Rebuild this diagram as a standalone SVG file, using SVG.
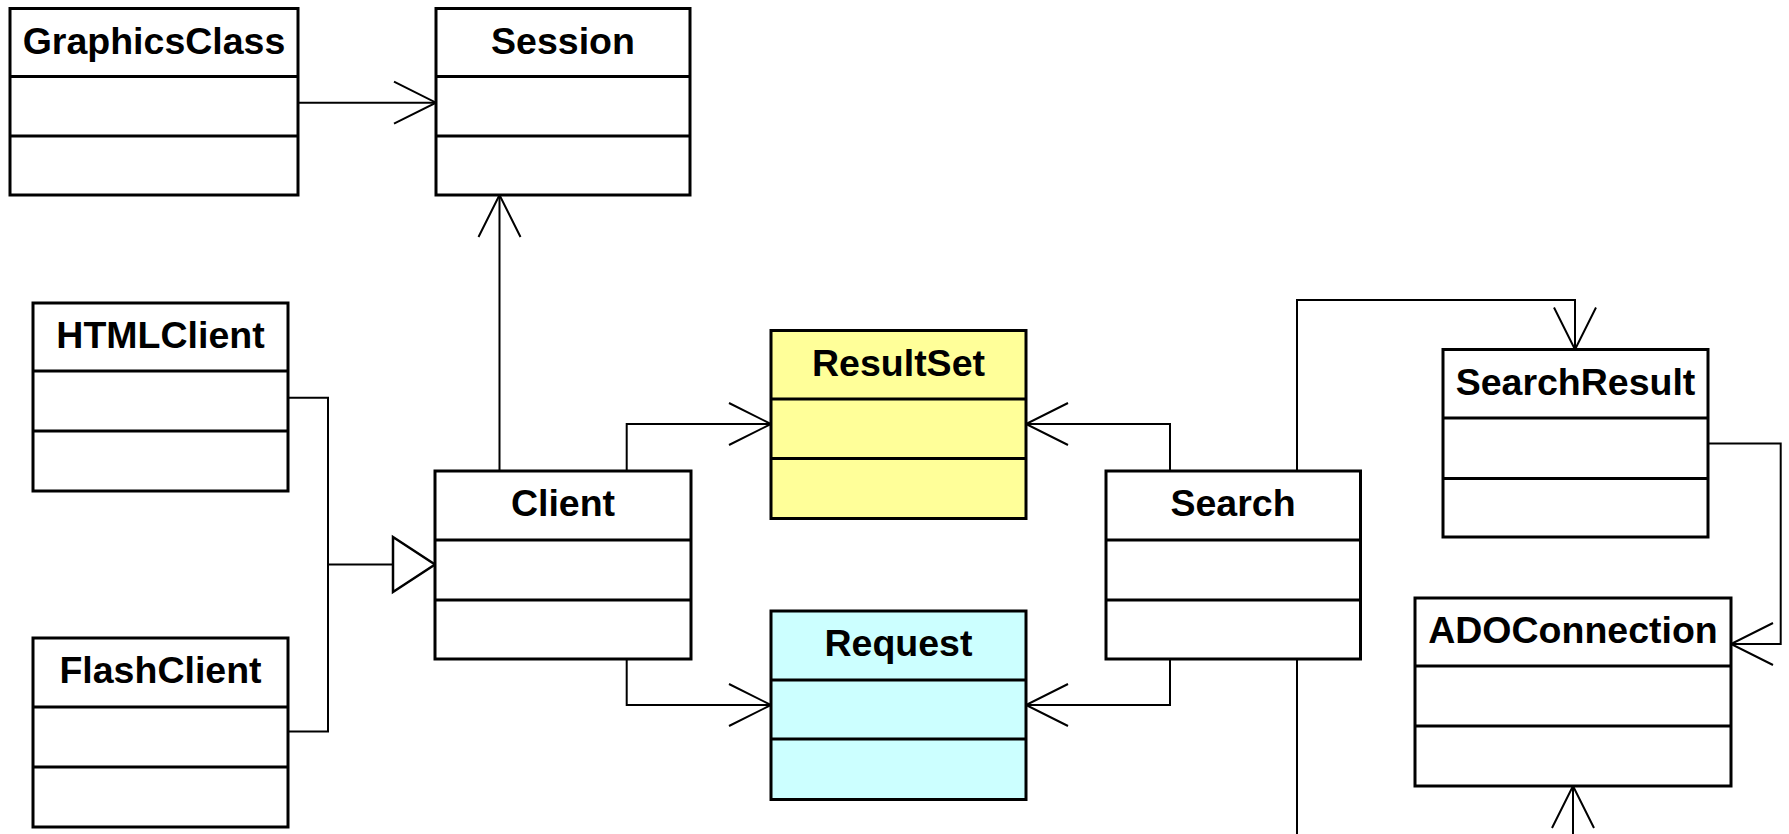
<svg xmlns="http://www.w3.org/2000/svg" width="1789" height="834" viewBox="0 0 1789 834">
<style>
.box{fill:#fff;stroke:#000;stroke-width:3}
.div{stroke:#000;stroke-width:3}
.yel{fill:#FFFF99}
.cyan{fill:#CCFFFF}
.lbl{font-family:"Liberation Sans",Arial,sans-serif;font-weight:bold;font-size:37.5px;text-anchor:middle;fill:#000}
.conn{fill:none;stroke:#000;stroke-width:2}
</style>
<defs>
<marker id="open" markerUnits="userSpaceOnUse" markerWidth="50" markerHeight="50" refX="0" refY="0" viewBox="-45 -25 50 50" orient="auto" overflow="visible">
<path d="M-42,-21 L0,0 L-42,21" fill="none" stroke="#000" stroke-width="2"/>
</marker>
</defs>
<rect width="1789" height="834" fill="#fff"/>
<g id="connectors">
<path class="conn" d="M298 102.7 H436" marker-end="url(#open)"/>
<path class="conn" d="M499.5 471 V195" marker-end="url(#open)"/>
<path class="conn" d="M288 397.7 H328 V731.6 H288 M328 564.5 H393"/>
<path d="M393 537 L435 564.5 L393 592 Z" fill="#fff" stroke="#000" stroke-width="2.5"/>
<path class="conn" d="M626.7 471 V424 H771" marker-end="url(#open)"/>
<path class="conn" d="M626.7 659 V705 H771" marker-end="url(#open)"/>
<path class="conn" d="M1170 471 V424 H1026" marker-end="url(#open)"/>
<path class="conn" d="M1170 659 V705 H1026" marker-end="url(#open)"/>
<path class="conn" d="M1297 471 V300 H1575 V349.5" marker-end="url(#open)"/>
<path class="conn" d="M1297 659 V834"/>
<path class="conn" d="M1708 443.6 H1780.7 V644 H1731" marker-end="url(#open)"/>
<path class="conn" d="M1573 834 V786" marker-end="url(#open)"/>
</g>
<g id="GraphicsClass">
<rect class="box" x="10" y="8.5" width="288" height="186.5"/>
<line class="div" x1="10" y1="76.5" x2="298" y2="76.5"/>
<line class="div" x1="10" y1="136" x2="298" y2="136"/>
<text class="lbl" x="154" y="53.5">GraphicsClass</text>
</g>
<g id="Session">
<rect class="box" x="436" y="8.5" width="254" height="186.5"/>
<line class="div" x1="436" y1="76.5" x2="690" y2="76.5"/>
<line class="div" x1="436" y1="136" x2="690" y2="136"/>
<text class="lbl" x="563" y="53.5">Session</text>
</g>
<g id="HTMLClient">
<rect class="box" x="33" y="303" width="255" height="188"/>
<line class="div" x1="33" y1="371" x2="288" y2="371"/>
<line class="div" x1="33" y1="431" x2="288" y2="431"/>
<text class="lbl" x="160.5" y="348">HTMLClient</text>
</g>
<g id="FlashClient">
<rect class="box" x="33" y="638" width="255" height="189"/>
<line class="div" x1="33" y1="707" x2="288" y2="707"/>
<line class="div" x1="33" y1="767" x2="288" y2="767"/>
<text class="lbl" x="160.5" y="683">FlashClient</text>
</g>
<g id="Client">
<rect class="box" x="435" y="471" width="256" height="188"/>
<line class="div" x1="435" y1="540" x2="691" y2="540"/>
<line class="div" x1="435" y1="600" x2="691" y2="600"/>
<text class="lbl" x="563" y="516">Client</text>
</g>
<g id="ResultSet">
<rect class="box yel" x="771" y="330.5" width="255" height="188"/>
<line class="div" x1="771" y1="399" x2="1026" y2="399"/>
<line class="div" x1="771" y1="458.5" x2="1026" y2="458.5"/>
<text class="lbl" x="898.5" y="375.5">ResultSet</text>
</g>
<g id="Request">
<rect class="box cyan" x="771" y="611" width="255" height="188.5"/>
<line class="div" x1="771" y1="680" x2="1026" y2="680"/>
<line class="div" x1="771" y1="739" x2="1026" y2="739"/>
<text class="lbl" x="898.5" y="656">Request</text>
</g>
<g id="Search">
<rect class="box" x="1106" y="471" width="254.5" height="188"/>
<line class="div" x1="1106" y1="540" x2="1360.5" y2="540"/>
<line class="div" x1="1106" y1="600" x2="1360.5" y2="600"/>
<text class="lbl" x="1233" y="516">Search</text>
</g>
<g id="SearchResult">
<rect class="box" x="1443" y="349.5" width="265" height="187.5"/>
<line class="div" x1="1443" y1="418" x2="1708" y2="418"/>
<line class="div" x1="1443" y1="478.5" x2="1708" y2="478.5"/>
<text class="lbl" x="1575.5" y="394.5">SearchResult</text>
</g>
<g id="ADOConnection">
<rect class="box" x="1415" y="598" width="316" height="188"/>
<line class="div" x1="1415" y1="666" x2="1731" y2="666"/>
<line class="div" x1="1415" y1="726" x2="1731" y2="726"/>
<text class="lbl" x="1573" y="643">ADOConnection</text>
</g>
</svg>
